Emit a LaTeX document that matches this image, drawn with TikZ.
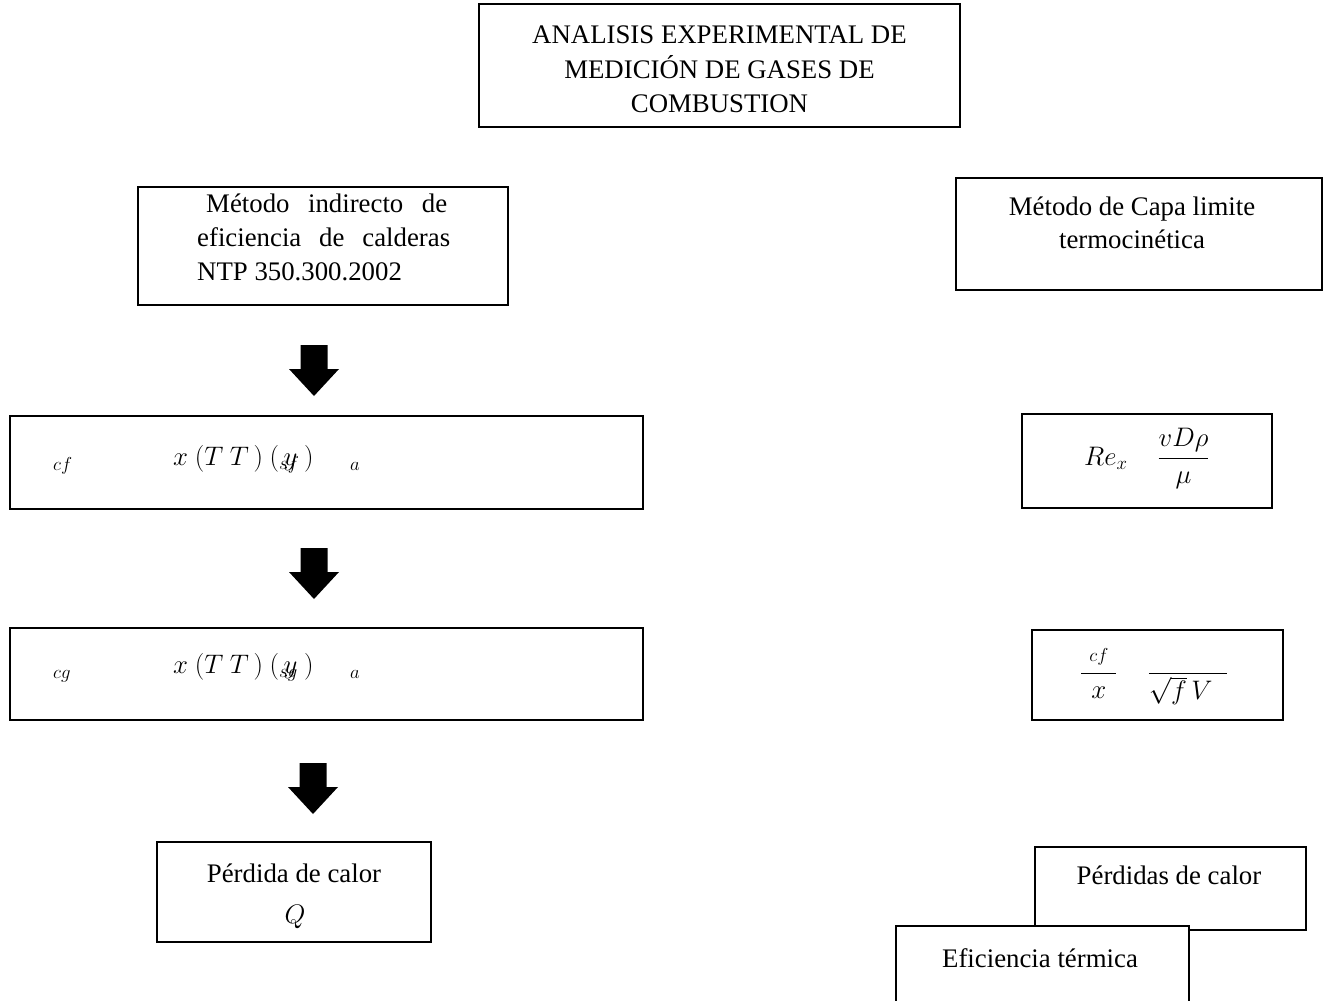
\documentclass[tikz,border=0pt]{standalone}
\usepackage{fix-cm}
\usepackage{amsmath}
\usepackage{fontspec}
\setmainfont{Liberation Serif}
\tikzset{
  box/.style={draw, line width=2pt, fill=white, inner sep=0pt},
  txt/.style={inner sep=0pt, anchor=base, font=\fontsize{26.8}{34}\selectfont},
  txtw/.style={txt, anchor=base west},
}
\newcommand\blockarrow[2]{%
  \fill (#1-13.5,#2) -- (#1+13.5,#2) -- (#1+13.5,#2+24) -- (#1+25,#2+24)
    -- (#1,#2+51) -- (#1-25,#2+24) -- (#1-13.5,#2+24) -- cycle;}
\begin{document}
\begin{tikzpicture}[x=1pt,y=-1pt]
\useasboundingbox (0,0) rectangle (1326,1001);
\clip (0,0) rectangle (1326,1001);
\fill[white] (0,0) rectangle (1326,1001);

% title
\node[box, minimum width=481pt, minimum height=123pt] (title) at (719.5,65.5) {};
\node[txt] (t1) at (719.5,43) {ANALISIS EXPERIMENTAL DE};
\node[txt] (t2) at (719.5,78) {MEDICIÓN DE GASES DE};
\node[txt] (t3) at (719.5,112) {COMBUSTION};

% left method
\node[box, minimum width=370pt, minimum height=118pt] (lm) at (323,246) {};
\node[txtw] (lm1) at (206,212) {\makebox[241pt][s]{Método indirecto de}};
\node[txtw] (lm2) at (197,246) {\makebox[253pt][s]{eficiencia de calderas}};
\node[txtw] (lm3) at (197,280) {NTP 350.300.2002};

% right method
\node[box, minimum width=366pt, minimum height=112pt] (rm) at (1139,234) {};
\node[txt] (rm1) at (1132,215) {Método de Capa limite};
\node[txt] (rm2) at (1132,248) {termocinética};

% arrows
\blockarrow{314}{345}
\blockarrow{314}{548}
\blockarrow{313}{763}

% cf box
\node[box, minimum width=633pt, minimum height=93pt] (cfbox) at (326.5,462.5) {};
\node[txtw] (cf1) at (53,470) {$\scriptstyle cf$};
\node[txtw] (cf2) at (173,465) {$x\ (T\ T\,)\ (\rlap{$_{sf}$}\,y\ )$};
\node[txtw] (cf3) at (350,470) {$\scriptstyle a$};

% Re box
\node[box, minimum width=250pt, minimum height=94pt] (rebox) at (1147,461) {};
\node[txtw] (re) at (1084,465) {$Re_x\hspace{30pt}\dfrac{vD\rho}{\mu}$};

% cg box
\node[box, minimum width=633pt, minimum height=92pt] (cgbox) at (326.5,674) {};
\node[txtw] (cg1) at (53,678) {$\scriptstyle cg$};
\node[txtw] (cg2) at (173,673) {$x\ (T\ T\,)\ (\rlap{$_{sg}$}\,y\ )$};
\node[txtw] (cg3) at (350,678) {$\scriptstyle a$};

% cf/x box
\node[box, minimum width=251pt, minimum height=90pt] (cfxbox) at (1157.5,675) {};
\node[txtw] (cfx) at (1080,680) {$\dfrac{\hbox to 35pt{\hfil$\scriptstyle cf$\hfil}}{x}
  \hspace{30pt}\dfrac{\hbox to 78pt{\hfil}}{\hbox to 78pt{$\sqrt{f}\,V$\hfil}}$};

% Q box
\node[box, minimum width=274pt, minimum height=100pt] (qbox) at (294,892) {};
\node[txt] (q1) at (294,882) {Pérdida de calor};
\node[txt] (q2) at (295,923) {$Q$};

% Perdidas box
\node[box, minimum width=271pt, minimum height=83pt] (pbox) at (1170.5,888.5) {};
\node[txt] (p1) at (1169,884) {Pérdidas de calor};

% Eficiencia box
\node[box, minimum width=293pt, minimum height=90pt] (ebox) at (1042.5,971) {};
\node[txt] (e1) at (1040,967) {Eficiencia térmica};
\end{tikzpicture}
\end{document}
